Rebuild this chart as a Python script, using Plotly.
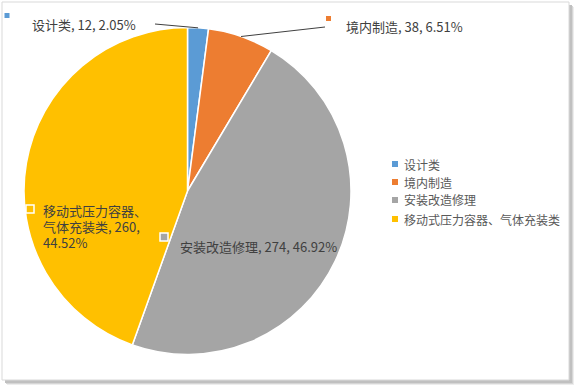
import numpy as np
import plotly.graph_objects as go

categories = ["设计类", "境内制造", "安装改造修理", "移动式压力容器、气体充装类"]
values = [12, 38, 274, 260]
colors = ["#5B9BD5", "#ED7D31", "#A5A5A5", "#FFC000"]

W, H = 578, 388
FONT = "Microsoft YaHei, Noto Sans CJK SC, sans-serif"


def px(x):
    return x / W


def py(y):
    return 1 - y / H


# pie placement (pixels)
cx, cy, r = 187.5, 191, 163.5

fig = go.Figure()
fig.add_trace(go.Pie(
    labels=categories, values=values, sort=False, direction="clockwise",
    rotation=0, marker=dict(colors=colors, line=dict(color="white", width=1.5)),
    textinfo="none", hoverinfo="label+value+percent", showlegend=False,
    domain=dict(x=[px(cx - r), px(cx + r)], y=[py(cy + r), py(cy - r)]),
))

total = sum(values)
pct = [v / total * 100 for v in values]
label_lines = [[f"{c}, {v}, {p:.2f}%"] for c, v, p in zip(categories, values, pct)]
label_lines[3] = [categories[3][:8], f"{categories[3][8:]}, {values[3]},", f"{pct[3]:.2f}%"]

shapes = []
# frame shadow + border
for off, col in [(5, "#EDEDED"), (4, "#D6D6D6"), (3, "#C0C0C0")]:
    shapes.append(dict(type="rect", xref="paper", yref="paper", layer="below",
                       x0=px(2 + off), x1=px(569 + off), y0=py(380 + off), y1=py(2 + off),
                       fillcolor=col, line=dict(width=0)))
shapes.append(dict(type="rect", xref="paper", yref="paper", layer="below",
                   x0=px(2), x1=px(569), y0=py(380), y1=py(2),
                   fillcolor="white", line=dict(color="#D9D9D9", width=1)))

# leader lines from slice mid-edge (computed from data) to outside labels
cum = np.cumsum([0] + values[:-1]) / total
mid = 2 * np.pi * (cum + np.array(values) / total / 2)
label_ends = {0: (155, 24), 1: (325, 27)}
for i, (lx, ly) in label_ends.items():
    ex = cx + r * np.sin(mid[i])
    ey = cy - r * np.cos(mid[i])
    shapes.append(dict(type="line", xref="paper", yref="paper",
                       x0=px(ex), y0=py(ey), x1=px(lx), y1=py(ly),
                       line=dict(color="#404040", width=1)))

# data-label keys
keys = [(7, 15.5, 5, False), (328.5, 18.5, 5, False), (164, 237, 8, True), (30, 209, 8, True)]
for i, (kx, ky, s, border) in enumerate(keys):
    shapes.append(dict(type="rect", xref="paper", yref="paper",
                       x0=px(kx - s / 2), x1=px(kx + s / 2), y0=py(ky + s / 2), y1=py(ky - s / 2),
                       fillcolor=colors[i],
                       line=dict(color="white", width=1.5) if border else dict(width=0)))

annotations = []
label_pos = [(30, 24), (344, 27), (178, 246), (41, 210)]
line_gap = 16
for lines, (lx, ly) in zip(label_lines, label_pos):
    for k, t in enumerate(lines):
        annotations.append(dict(text=t, x=px(lx), y=py(ly + k * line_gap), xref="paper", yref="paper",
                                xanchor="left", yanchor="middle", align="left", showarrow=False,
                                font=dict(family=FONT, size=13, color="#404040")))

# legend
leg_y = [164, 182, 200, 219]
for c, col, ly in zip(categories, colors, leg_y):
    shapes.append(dict(type="rect", xref="paper", yref="paper",
                       x0=px(392), x1=px(398), y0=py(ly + 3), y1=py(ly - 3),
                       fillcolor=col, line=dict(width=0)))
    annotations.append(dict(text=c, x=px(402), y=py(ly), xref="paper", yref="paper",
                            xanchor="left", yanchor="middle", showarrow=False,
                            font=dict(family=FONT, size=12, color="#595959")))

fig.update_layout(
    width=W, height=H, margin=dict(l=0, r=0, t=0, b=0),
    paper_bgcolor="white", plot_bgcolor="white",
    shapes=shapes, annotations=annotations, showlegend=False,
)
fig.write_html("out.html", config={"displayModeBar": False},
               post_script="document.body.style.margin='0';")
